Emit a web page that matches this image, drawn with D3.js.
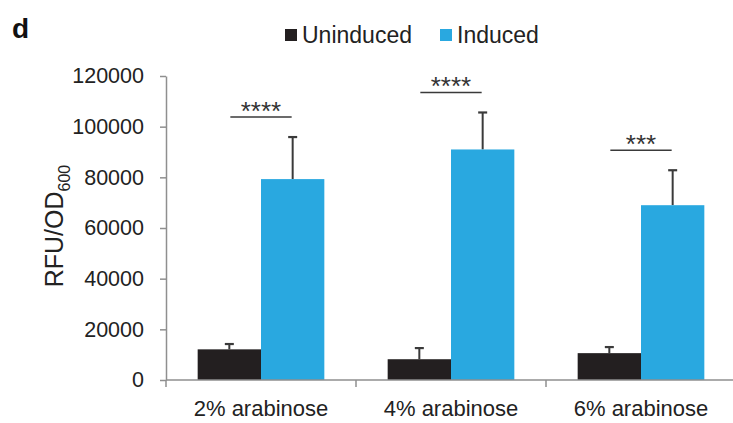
<!DOCTYPE html>
<html>
<head>
<meta charset="utf-8">
<script src="https://cdn.jsdelivr.net/npm/d3@7/dist/d3.min.js"></script>
<style>
  html, body { margin: 0; padding: 0; background: #fff; }
  svg { display: block; font-family: "Liberation Sans", Arial, Helvetica, sans-serif; }
</style>
</head>
<body>
<svg id="chart" width="733" height="423"></svg>
<script>
// Fluorescence per OD600 for each arabinose concentration
const categories = ["2% arabinose", "4% arabinose", "6% arabinose"];
const seriesNames = ["Uninduced", "Induced"];
const uninducedMean = [12100, 8200, 10600];
const uninducedErr = [2100, 4400, 2400];
const inducedMean = [79300, 91000, 69000];
const inducedErr = [16600, 14600, 13800];
const significance = ["****", "****", "***"];
const yTicks = [0, 20000, 40000, 60000, 80000, 100000, 120000];
const colors = { Uninduced: "#231f20", Induced: "#29a8e0" };

const svg = d3.select("#chart");
const margin = { left: 166, top: 76, bottom: 380, right: 736 };

const x0 = d3.scaleBand().domain(categories).range([margin.left, margin.right]).paddingInner(0).paddingOuter(0);
const x1 = d3.scaleBand().domain(seriesNames).range([0, x0.bandwidth()]).paddingInner(0).paddingOuter(0.5);
const y = d3.scaleLinear().domain([0, 120000]).range([margin.bottom, margin.top]);

const rows = categories.map((c, i) => ({
  cat: c,
  values: [
    { key: "Uninduced", mean: uninducedMean[i], err: uninducedErr[i] },
    { key: "Induced", mean: inducedMean[i], err: inducedErr[i] }
  ],
  sig: significance[i]
}));

// Bars and error bars
const groups = svg.selectAll("g.cat").data(rows).enter().append("g")
  .attr("class", "cat")
  .attr("transform", d => `translate(${x0(d.cat)},0)`);

groups.selectAll("line.err").data(d => d.values).enter().append("line")
  .attr("class", "err")
  .attr("x1", d => x1(d.key) + x1.bandwidth() / 2)
  .attr("x2", d => x1(d.key) + x1.bandwidth() / 2)
  .attr("y1", d => y(d.mean))
  .attr("y2", d => y(d.mean + d.err))
  .attr("stroke", "#3a3a3a").attr("stroke-width", 2);

groups.selectAll("line.cap").data(d => d.values).enter().append("line")
  .attr("class", "cap")
  .attr("x1", d => x1(d.key) + x1.bandwidth() / 2 - 4.5)
  .attr("x2", d => x1(d.key) + x1.bandwidth() / 2 + 4.5)
  .attr("y1", d => y(d.mean + d.err))
  .attr("y2", d => y(d.mean + d.err))
  .attr("stroke", "#3a3a3a").attr("stroke-width", 2.2);

groups.selectAll("rect").data(d => d.values).enter().append("rect")
  .attr("x", d => x1(d.key))
  .attr("width", x1.bandwidth())
  .attr("y", d => y(d.mean))
  .attr("height", d => y(0) - y(d.mean))
  .attr("fill", d => colors[d.key]);

// Significance brackets above each pair
groups.each(function(d) {
  const g = d3.select(this);
  const top = d3.max(d.values, v => v.mean + v.err);
  const ly = y(top) - 20;
  const cx = x0.bandwidth() / 2;
  const half = x1.bandwidth() / 2 - 1;
  g.append("line")
    .attr("x1", cx - half).attr("x2", cx + half)
    .attr("y1", ly).attr("y2", ly)
    .attr("stroke", "#3a3a3a").attr("stroke-width", 1.6);
  g.append("text")
    .attr("x", cx).attr("y", ly + 3)
    .attr("text-anchor", "middle")
    .attr("font-size", 26)
    .attr("fill", "#333")
    .text(d.sig);
});

// Y axis
const yAxis = svg.append("g")
  .attr("transform", `translate(${margin.left},0)`)
  .call(d3.axisLeft(y).tickValues(yTicks).tickSize(6).tickSizeOuter(0).tickFormat(d3.format("d")).tickPadding(16));
yAxis.select(".domain").attr("stroke", "#8f8f8f").attr("stroke-width", 1.5);
yAxis.selectAll(".tick line").attr("stroke", "#8f8f8f").attr("stroke-width", 1.5);
yAxis.selectAll(".tick text").attr("font-size", 21.5).attr("fill", "#222").attr("font-family", "Liberation Sans, Arial, sans-serif");

// X axis with tick marks between categories
const xAxisG = svg.append("g").attr("transform", `translate(0,${margin.bottom})`);
xAxisG.append("line")
  .attr("x1", margin.left).attr("x2", margin.right)
  .attr("y1", 0).attr("y2", 0)
  .attr("stroke", "#8f8f8f").attr("stroke-width", 1.5);
xAxisG.selectAll("line.sep").data(categories).enter().append("line")
  .attr("class", "sep")
  .attr("x1", d => x0(d)).attr("x2", d => x0(d))
  .attr("y1", 0).attr("y2", 7)
  .attr("stroke", "#8f8f8f").attr("stroke-width", 1.5);
xAxisG.selectAll("text").data(categories).enter().append("text")
  .attr("x", d => x0(d) + x0.bandwidth() / 2)
  .attr("y", 36)
  .attr("text-anchor", "middle")
  .attr("font-size", 22)
  .attr("fill", "#222")
  .text(d => d);

// Y axis title with subscript
const yTitle = svg.append("text")
  .attr("transform", "translate(63,226) rotate(-90)")
  .attr("text-anchor", "middle")
  .attr("font-size", 25)
  .attr("fill", "#222");
yTitle.append("tspan").text("RFU/OD");
yTitle.append("tspan").attr("font-size", 16).attr("dy", 7).text("600");

// Panel letter
svg.append("text").attr("x", 12).attr("y", 38)
  .attr("font-size", 28).attr("font-weight", "bold").attr("fill", "#111").text("d");

// Legend
const legendItems = [
  { key: "Uninduced", x: 285 },
  { key: "Induced", x: 440 }
];
const legend = svg.selectAll("g.legend").data(legendItems).enter().append("g")
  .attr("class", "legend")
  .attr("transform", d => `translate(${d.x},0)`);
legend.append("rect").attr("x", 0).attr("y", 29).attr("width", 12).attr("height", 12)
  .attr("fill", d => colors[d.key]);
legend.append("text").attr("x", 17).attr("y", 43)
  .attr("font-size", 23).attr("fill", "#222").text(d => d.key);
</script>
</body>
</html>
